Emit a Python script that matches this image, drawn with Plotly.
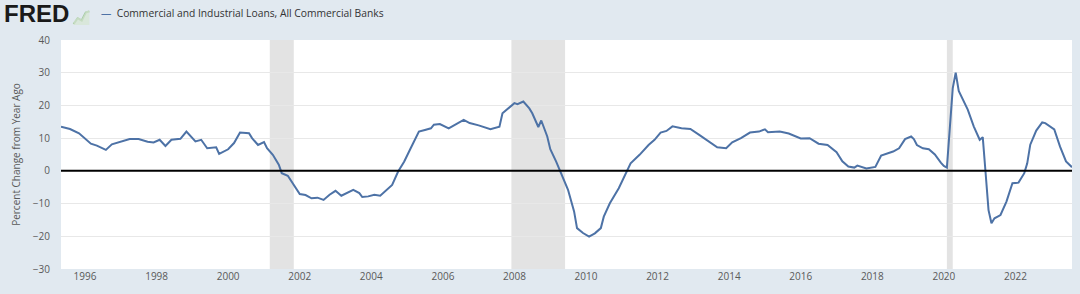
import plotly.graph_objects as go

dates = [
    "1995-05", "1995-08", "1995-11", "1996-01", "1996-03", "1996-05", "1996-08", "1996-10",
    "1997-01", "1997-04", "1997-07", "1997-10", "1997-12", "1998-02", "1998-04", "1998-06",
    "1998-09", "1998-11", "1999-02", "1999-04", "1999-06", "1999-09", "1999-10", "2000-01",
    "2000-03", "2000-05", "2000-08", "2000-09", "2000-11", "2001-01", "2001-02", "2001-04",
    "2001-06", "2001-07", "2001-09", "2001-11", "2002-01", "2002-03", "2002-05", "2002-07",
    "2002-09", "2002-11", "2003-01", "2003-03", "2003-05", "2003-07", "2003-09", "2003-10",
    "2003-12", "2004-02", "2004-04", "2004-06", "2004-08", "2004-10", "2004-12", "2005-02",
    "2005-04", "2005-05", "2005-07", "2005-09", "2005-10", "2005-12", "2006-03", "2006-06",
    "2006-08", "2006-10", "2007-01", "2007-05", "2007-08", "2007-09", "2007-11", "2008-01",
    "2008-02", "2008-04", "2008-06", "2008-07", "2008-09", "2008-10", "2008-12", "2009-01",
    "2009-03", "2009-05", "2009-07", "2009-09", "2009-10", "2009-12", "2010-02", "2010-04",
    "2010-06", "2010-07", "2010-09", "2010-12", "2011-02", "2011-04", "2011-07", "2011-10",
    "2011-12", "2012-02", "2012-04", "2012-06", "2012-09", "2012-12", "2013-03", "2013-06",
    "2013-09", "2013-12", "2014-02", "2014-05", "2014-08", "2014-11", "2015-01", "2015-02",
    "2015-06", "2015-09", "2016-01", "2016-04", "2016-07", "2016-10", "2017-01", "2017-03",
    "2017-05", "2017-07", "2017-08", "2017-11", "2018-02", "2018-04", "2018-06", "2018-08",
    "2018-10", "2018-12", "2019-02", "2019-03", "2019-04", "2019-06", "2019-08", "2019-10",
    "2019-12", "2020-01", "2020-02", "2020-03", "2020-04", "2020-05", "2020-06", "2020-09",
    "2020-11", "2021-01", "2021-02", "2021-03", "2021-04", "2021-05", "2021-06", "2021-08",
    "2021-10", "2021-12", "2022-02", "2022-04", "2022-05", "2022-06", "2022-08", "2022-10",
    "2022-11", "2023-02", "2023-04", "2023-06", "2023-08",
]
values = [
    13.5, 12.8, 11.5, 10.0, 8.3, 7.7, 6.4, 8.1,
    8.8, 9.7, 9.7, 8.9, 8.7, 9.5, 7.6, 9.5,
    9.8, 12.0, 9.0, 9.5, 6.9, 7.2, 5.2, 6.6,
    8.5, 11.7, 11.5, 10.0, 7.9, 8.8, 6.9, 4.9,
    1.9, -0.7, -1.5, -4.3, -7.1, -7.4, -8.4, -8.2,
    -8.9, -7.3, -6.1, -7.6, -6.8, -5.8, -6.8, -8.0,
    -7.8, -7.3, -7.6, -5.8, -4.3, -0.2, 2.8, 6.6,
    10.0, 12.0, 12.5, 13.0, 14.1, 14.3, 13.0, 14.6,
    15.6, 14.6, 13.9, 12.7, 13.5, 17.6, 19.1, 20.7,
    20.4, 21.2, 19.1, 17.6, 13.4, 15.4, 10.5, 6.6,
    2.9, -1.2, -5.8, -12.4, -17.5, -19.0, -20.1, -19.1,
    -17.5, -14.0, -9.9, -5.3, -1.5, 2.3, 4.9, 7.9,
    9.5, 11.7, 12.2, 13.6, 13.0, 12.8, 11.0, 9.0,
    7.2, 6.9, 8.7, 10.0, 11.7, 12.0, 12.7, 11.8,
    12.0, 11.4, 9.9, 10.0, 8.3, 7.9, 5.7, 2.9,
    1.3, 1.0, 1.6, 0.7, 1.2, 4.7, 5.4, 5.9,
    6.9, 9.7, 10.5, 9.7, 7.9, 6.9, 6.6, 5.0,
    2.5, 1.5, 1.0, 12.0, 25.3, 30.0, 24.4, 18.7,
    13.6, 9.5, 10.3, -0.2, -12.0, -16.0, -14.5, -13.5,
    -9.4, -3.8, -3.6, -0.7, 2.3, 8.0, 12.3, 14.8,
    14.6, 12.7, 7.4, 2.9, 1.1,
]

recession_starts = ["2001-03-01", "2007-12-01", "2020-02-01"]
recession_ends = ["2001-11-01", "2009-06-01", "2020-04-01"]

series_name = "Commercial and Industrial Loans, All Commercial Banks"
y_title = "Percent Change from Year Ago"
x_ticks = ["1996", "1998", "2000", "2002", "2004", "2006", "2008", "2010",
           "2012", "2014", "2016", "2018", "2020", "2022"]
y_ticks = [-30, -20, -10, 0, 10, 20, 30, 40]

line_color = "#4d72a6"
font_family = "Open Sans, Noto Sans, sans-serif"

fig = go.Figure()
fig.add_trace(go.Scatter(
    x=[d + "-01" for d in dates], y=values, mode="lines",
    line=dict(color=line_color, width=2), name=series_name, showlegend=False,
))

for s, e in zip(recession_starts, recession_ends):
    fig.add_vrect(x0=s, x1=e, fillcolor="#e3e3e3", line_width=0, layer="below", opacity=1)

fig.add_hline(y=0, line=dict(color="#000000", width=2))

fig.update_layout(
    width=1080, height=294,
    margin=dict(l=61, r=8, t=40, b=25),
    paper_bgcolor="#e1e9f0",
    plot_bgcolor="#ffffff",
    font=dict(family=font_family, color="#595959", size=10),
    xaxis=dict(
        range=["1995-05-01", "2023-08-01"],
        tickvals=[t + "-01-01" for t in x_ticks], ticktext=x_ticks,
        showgrid=False, zeroline=False, showline=False, ticks="",
        tickfont=dict(size=10, color="#595959"),
    ),
    yaxis=dict(
        range=[-30, 40], tickvals=y_ticks,
        showgrid=True, gridcolor="#e8e8e8", gridwidth=1, zeroline=False,
        ticks="", ticklabelstandoff=10, tickfont=dict(size=10, color="#595959"),
        title=dict(text=y_title, font=dict(size=10, color="#595959"), standoff=10),
    ),
    showlegend=False,
)

# FRED logo text and small icon
fig.add_annotation(
    xref="paper", yref="paper", x=-0.058, y=1.0, yshift=42, xanchor="left", yanchor="top",
    text="<b>FRED</b>", showarrow=False,
    font=dict(family="Liberation Sans, Arial, sans-serif", size=24, color="#1a1a1a"),
)
fig.add_shape(
    type="path", xref="paper", yref="paper", layer="above",
    path="M 0.0125 1.070 L 0.0165 1.095 L 0.0205 1.085 L 0.0245 1.120 L 0.0280 1.125",
    line=dict(color="#9cc49a", width=2),
)
fig.add_shape(
    type="path", xref="paper", yref="paper", layer="above",
    path="M 0.0125 1.065 L 0.0125 1.080 L 0.0165 1.100 L 0.0205 1.090 L 0.0245 1.125 L 0.0280 1.130 L 0.0280 1.065 Z",
    fillcolor="#d6e6d2", line=dict(width=0), opacity=0.7,
)
fig.add_annotation(
    xref="paper", yref="paper", x=0.038, y=1.0, yshift=36, xanchor="left", yanchor="top",
    text="<span style='color:%s'>—</span>  %s" % (line_color, series_name), showarrow=False,
    font=dict(family=font_family, size=10.3, color="#333333"),
)

fig.write_html("out.html")
